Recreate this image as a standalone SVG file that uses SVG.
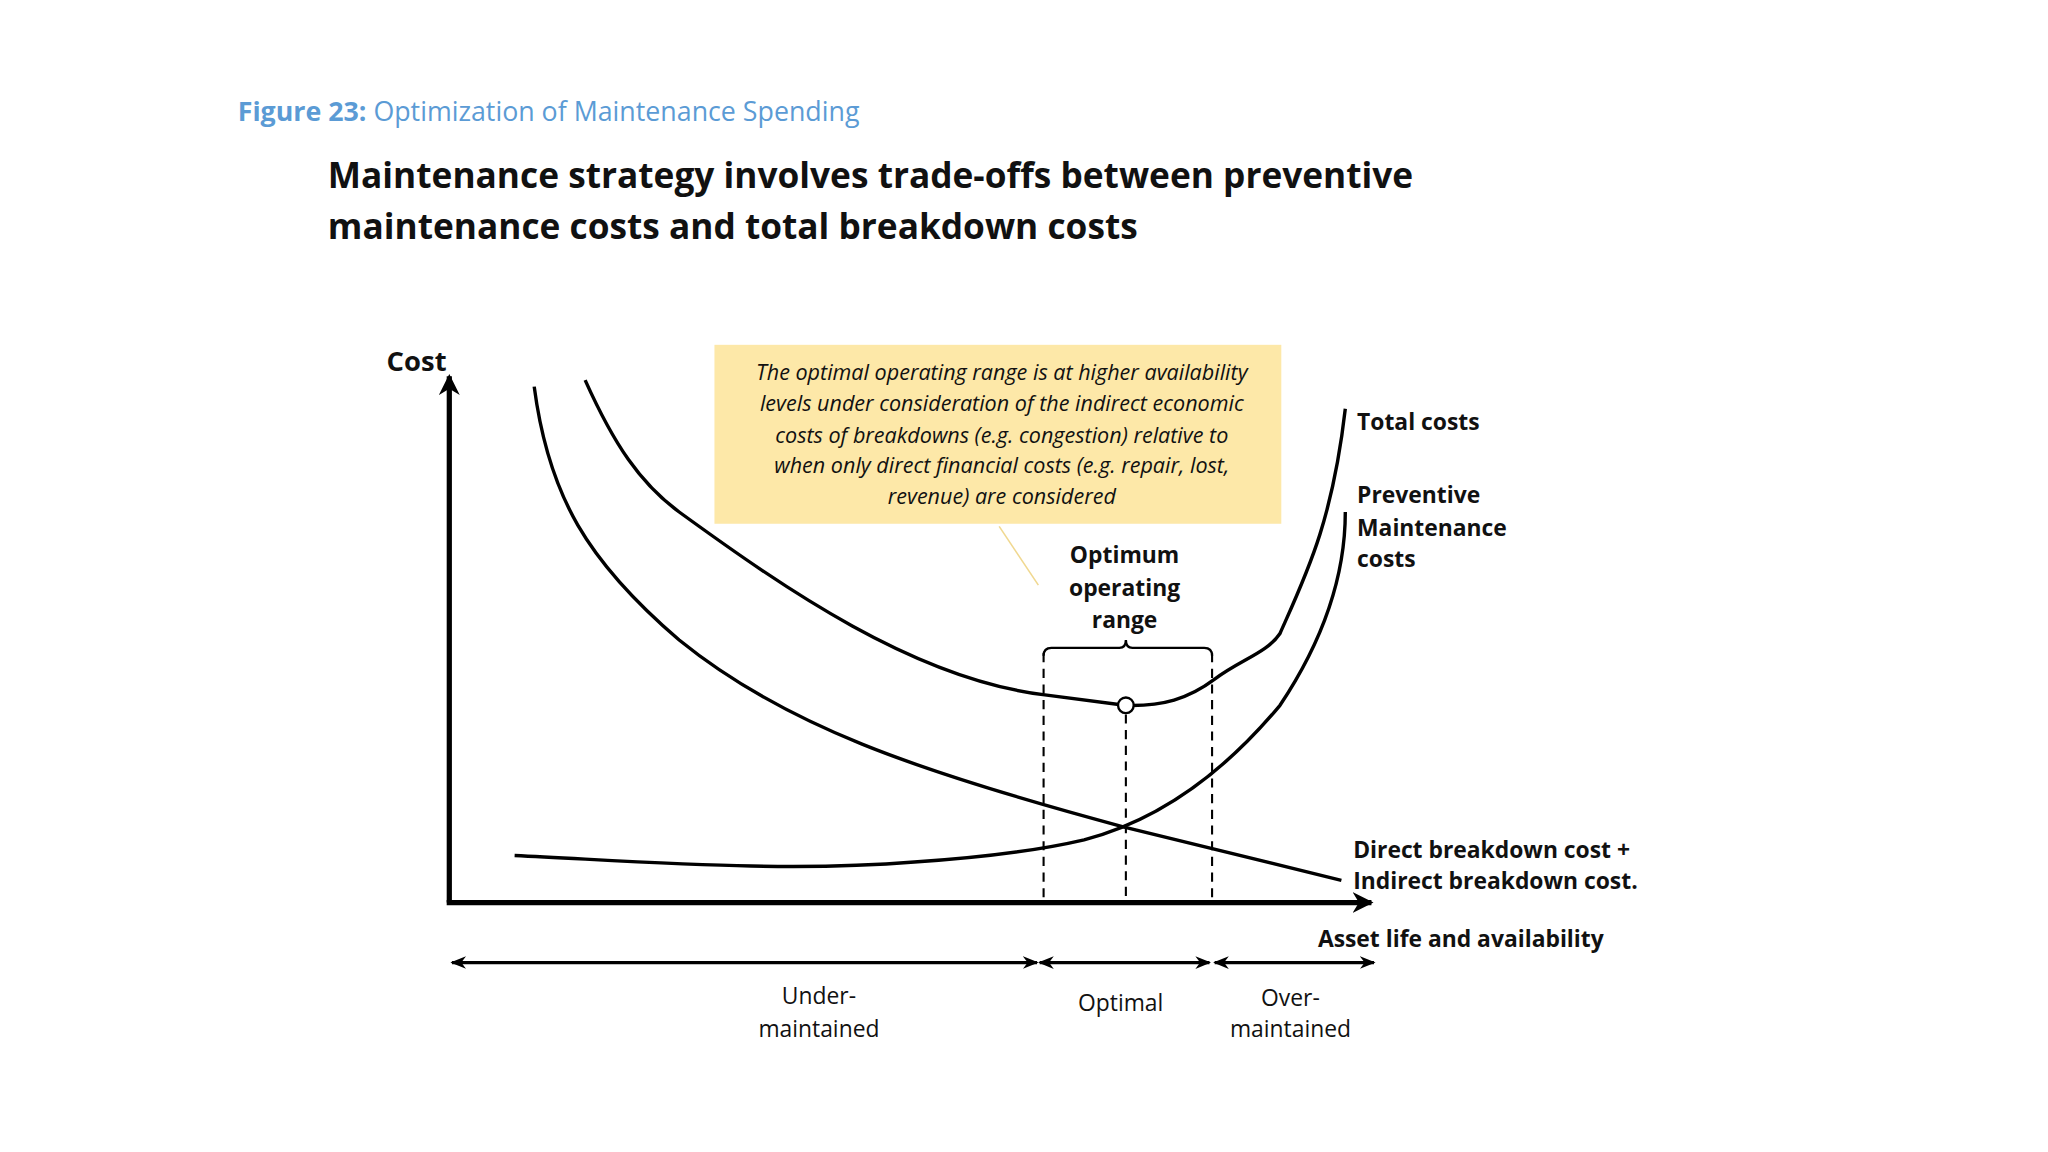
<svg xmlns="http://www.w3.org/2000/svg" width="2048" height="1152" viewBox="0 0 2048 1152">
<defs>
<style>
.t{font-family:"Open Sans","Noto Sans",sans-serif;fill:#111}
.b{font-weight:bold}
.c{stroke:#000;stroke-width:2.6;fill:none}
.d{stroke:#000;stroke-width:1.6;fill:none;stroke-dasharray:7 5}
</style>
<marker id="ah" viewBox="0 0 10 10" refX="9" refY="5" markerWidth="4" markerHeight="4" orient="auto-start-reverse"><path d="M0,0 L10,5 L0,10 L3,5 z" fill="#000"/></marker>
<marker id="sh" viewBox="0 0 10 10" refX="9" refY="5" markerWidth="5" markerHeight="5" orient="auto-start-reverse"><path d="M0,1 L10,5 L0,9 L3,5 z" fill="#000"/></marker>
</defs>
<rect width="2048" height="1152" fill="#fff"/>
<g transform="scale(1.30612)">
<g id="header">
<text class="t" x="182" y="93" font-size="20.5" fill="#5b9bd5" style="fill:#5b9bd5"><tspan font-weight="bold">Figure 23:</tspan> Optimization of Maintenance Spending</text>
<text class="t b" x="251" y="144" font-size="27">Maintenance strategy involves trade-offs between preventive</text>
<text class="t b" x="251" y="183" font-size="27">maintenance costs and total breakdown costs</text>
</g>
<g id="note">
<rect x="547" y="264" width="434" height="137" fill="#fde8a8"/>
<g class="t" font-size="16.5" font-style="italic" text-anchor="middle">
<text x="767" y="291">The optimal operating range is at higher availability</text>
<text x="767" y="315">levels under consideration of the indirect economic</text>
<text x="767" y="339">costs of breakdowns (e.g. congestion) relative to</text>
<text x="767" y="362">when only direct financial costs (e.g. repair, lost,</text>
<text x="767" y="386">revenue) are considered</text>
</g>
</g>
<g id="connectors">
<line x1="765" y1="403" x2="795" y2="448" stroke="#f0d890" stroke-width="1.2"/>
<line x1="344" y1="691" x2="344" y2="288" stroke="#000" stroke-width="4" marker-end="url(#ah)"/>
<line x1="342" y1="691" x2="1050" y2="691" stroke="#000" stroke-width="4" marker-end="url(#ah)"/>
<path class="c" d="M409,296 C420,380 450,430 520,490 C600,555 700,590 860,633 L1027,674"/>
<path class="c" d="M448,291 C470,340 490,370 520,392 C600,450 700,520 800,532 L861,540 C890,541 910,535 930,520 C950,505 970,500 980,485 C1000,440 1020,400 1030,313"/>
<path class="c" d="M394,655 C500,660 600,668 700,660 C760,656 800,650 830,643 C880,630 930,600 980,540 C1020,480 1030,430 1030,392"/>
<line class="d" x1="799" y1="500" x2="799" y2="691"/>
<line class="d" x1="928" y1="500" x2="928" y2="691"/>
<line class="d" x1="862" y1="547" x2="862" y2="691"/>
<path d="M799,502 Q799,496 805,496 L857,496 Q862,496 862,490 Q862,496 867,496 L922,496 Q928,496 928,502" stroke="#000" stroke-width="1.8" fill="none"/>
<circle cx="862" cy="540" r="6" fill="#fff" stroke="#000" stroke-width="1.8"/>
<line x1="346" y1="737" x2="794" y2="737" stroke="#000" stroke-width="2.4" marker-start="url(#sh)" marker-end="url(#sh)"/>
<line x1="796" y1="737" x2="926" y2="737" stroke="#000" stroke-width="2.4" marker-start="url(#sh)" marker-end="url(#sh)"/>
<line x1="930" y1="737" x2="1052" y2="737" stroke="#000" stroke-width="2.4" marker-start="url(#sh)" marker-end="url(#sh)"/>
</g>
<g id="labels" class="t">
<text class="b" x="296" y="284" font-size="21">Cost</text>
<g class="b" font-size="17.5" text-anchor="middle">
<text x="861" y="431">Optimum</text><text x="861" y="456">operating</text><text x="861" y="481">range</text>
</g>
<g class="b" font-size="17.5">
<text x="1039" y="329">Total costs</text>
<text x="1039" y="385">Preventive</text><text x="1039" y="410">Maintenance</text><text x="1039" y="434">costs</text>
<text x="1036" y="657">Direct breakdown cost +</text><text x="1036" y="681">Indirect breakdown cost.</text>
<text x="1009" y="725">Asset life and availability</text>
</g>
<g font-size="17.5" text-anchor="middle">
<text x="627" y="769">Under-</text><text x="627" y="794">maintained</text>
<text x="858" y="774">Optimal</text>
<text x="988" y="770">Over-</text><text x="988" y="794">maintained</text>
</g>
</g>
</g>
</svg>
